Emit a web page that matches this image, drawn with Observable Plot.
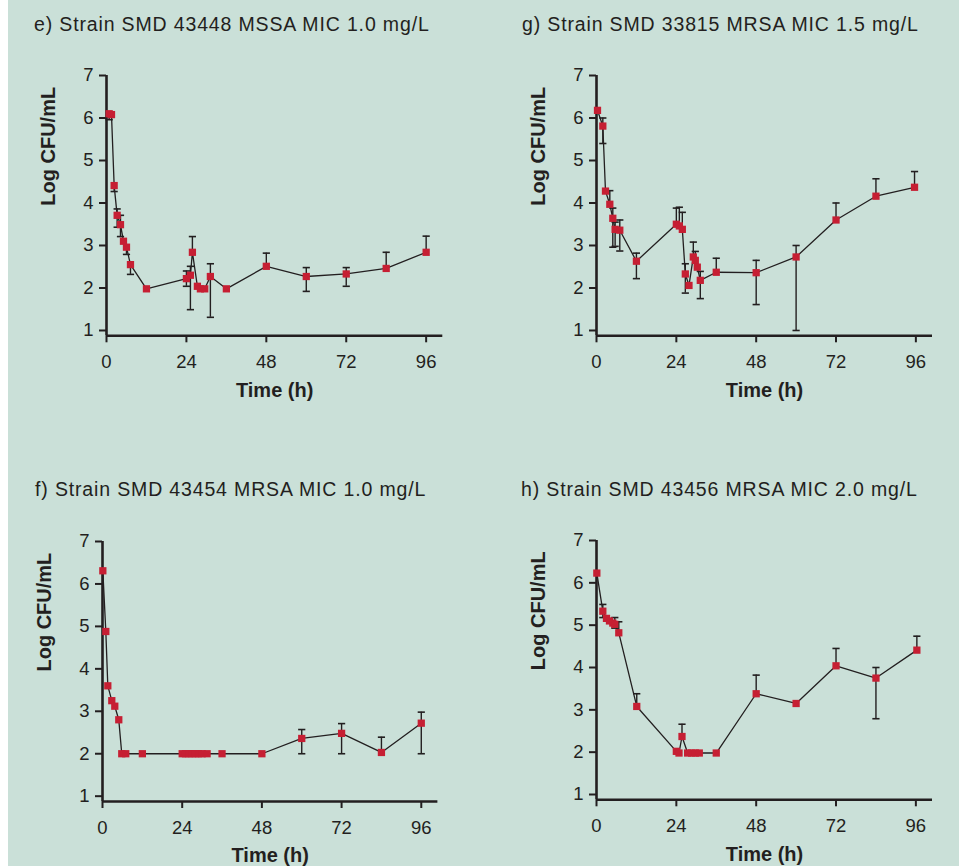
<!DOCTYPE html>
<html><head><meta charset="utf-8">
<script src="https://cdn.jsdelivr.net/npm/d3@7"></script>
<script src="https://cdn.jsdelivr.net/npm/@observablehq/plot@0.6"></script>
<style>
html,body{margin:0;padding:0;background:#fff;}
#page{position:relative;width:959px;height:866px;overflow:hidden;background:#fff;}
#bg{position:absolute;left:8px;top:0;right:0;bottom:0;background:#cae0d8;}
.title{position:absolute;font-family:"Liberation Sans",Arial,sans-serif;font-size:19.5px;letter-spacing:0.85px;color:#231f20;white-space:nowrap;line-height:19.5px;}
.panel{position:absolute;}
</style></head><body><div id="page"><div id="bg"></div></div>
<script>
// ---- data (Log CFU/mL vs time in hours) ----
const xTicks = [0, 24, 48, 72, 96];
const yTicks = [1, 2, 3, 4, 5, 6, 7];

const eTitle = "e) Strain SMD 43448 MSSA MIC 1.0 mg/L";
const eTime = [0.8, 1.5, 2.3, 3.2, 4.2, 5.1, 6, 7.2, 12, 24, 25.2, 25.8, 27.3, 28.2, 29.5, 31.2, 36, 48, 60, 72, 84, 96];
const eLog  = [6.10, 6.08, 4.41, 3.71, 3.49, 3.10, 2.96, 2.55, 1.98, 2.22, 2.30, 2.84, 2.04, 1.98, 1.98, 2.27, 1.98, 2.51, 2.27, 2.33, 2.46, 2.84];
const eHi   = [null, null, null, 3.86, 3.71, null, null, null, null, 2.40, 2.51, 3.21, null, null, null, 2.57, null, 2.82, 2.48, 2.48, 2.84, 3.22];
const eLo   = [5.96, null, 4.27, 3.43, 3.21, null, 2.79, 2.32, null, 2.04, 1.49, null, null, null, null, 1.31, null, null, 1.92, 2.04, null, null];

const gTitle = "g) Strain SMD 33815 MRSA MIC 1.5 mg/L";
const gTime = [0.3, 1.9, 2.7, 4.0, 4.9, 5.6, 7.0, 12, 24, 24.9, 25.8, 26.7, 27.8, 29.1, 29.7, 30.3, 31.2, 36, 48, 60, 72, 84, 95.6];
const gLog  = [6.18, 5.81, 4.28, 3.97, 3.64, 3.38, 3.36, 2.63, 3.50, 3.46, 3.38, 2.33, 2.06, 2.73, 2.65, 2.49, 2.18, 2.37, 2.36, 2.73, 3.60, 4.16, 4.37];
const gHi   = [null, 6.0, null, 4.29, 3.88, 3.55, 3.60, 2.82, 3.88, 3.90, 3.78, 2.57, null, 3.08, 2.86, null, 2.39, 2.70, 2.65, 3.0, 4.0, 4.57, 4.74];
const gLo   = [null, 5.40, null, null, 2.96, 2.98, 2.87, 2.22, null, null, null, 1.88, null, null, null, null, 1.75, null, 1.61, 1.0, null, null, null];

const fTitle = "f) Strain SMD 43454 MRSA MIC 1.0 mg/L";
const fTime = [0.1, 1.0, 1.6, 2.8, 3.7, 4.9, 5.8, 7.0, 12, 24, 25, 26, 27, 28, 29, 30, 31.5, 36, 48, 60, 72, 84, 96];
const fLog  = [6.31, 4.88, 3.60, 3.25, 3.12, 2.80, 2.0, 2.0, 2.0, 2.0, 2.0, 2.0, 2.0, 2.0, 2.0, 2.0, 2.0, 2.0, 2.0, 2.36, 2.48, 2.03, 2.72];
const fHi   = [null, null, null, null, null, null, null, null, null, null, null, null, null, null, null, null, null, null, null, 2.57, 2.71, 2.39, 2.98];
const fLo   = [null, null, null, null, null, null, null, null, null, null, null, null, null, null, null, null, null, null, null, 2.0, 2.0, null, 2.0];

const hTitle = "h) Strain SMD 43456 MRSA MIC 2.0 mg/L";
const hTime = [0.1, 1.9, 3, 3.9, 4.9, 5.5, 6.7, 12.1, 24, 24.8, 25.7, 27.4, 28.6, 29.7, 30.9, 36, 48, 60, 72, 84, 96.3];
const hLog  = [6.23, 5.33, 5.16, 5.10, 5.05, 5.02, 4.82, 3.08, 2.02, 1.98, 2.37, 1.98, 1.98, 1.98, 1.98, 1.98, 3.38, 3.15, 4.04, 3.75, 4.41];
const hHi   = [null, 5.49, null, null, null, 5.18, 5.08, 3.38, null, null, 2.66, null, null, null, null, null, 3.82, null, 4.45, 4.0, 4.74];
const hLo   = [null, 5.18, null, null, null, 4.93, null, null, null, null, null, null, null, null, null, null, null, null, null, 2.79, null];

// ---- layout (frame edges in page pixels) ----
const X_DOMAIN = [0, 101];
const Y_DOMAIN = [0.875, 7];
const panels = [
  {title: eTitle, t: eTime, v: eLog, hi: eHi, lo: eLo, L: 105.7, T: 75,    R: 442,   B: 335.3, tx: 34,  ty: 31.7},
  {title: gTitle, t: gTime, v: gLog, hi: gHi, lo: gLo, L: 595.7, T: 75,    R: 931.7, B: 335.3, tx: 522, ty: 31.7},
  {title: fTitle, t: fTime, v: fLog, hi: fHi, lo: fLo, L: 102.3, T: 540.7, R: 437.7, B: 800.7, tx: 35,  ty: 496.7},
  {title: hTitle, t: hTime, v: hLog, hi: hHi, lo: hLo, L: 595.7, T: 540,   R: 931.7, B: 799.3, tx: 521, ty: 496.7}
];

const RED = "#c61f33", INK = "#231f20";
const FONT = "'Liberation Sans', Arial, Helvetica, sans-serif";
const cap = {draw(ctx) { ctx.moveTo(-3.6, 0); ctx.lineTo(3.6, 0); }};
const ML = 110, MR = 20, MT = 20, MB = 75;
const page = document.getElementById("page");

for (const p of panels) {
  const rows = p.t.map((t, i) => ({t, v: p.v[i], hi: p.hi[i], lo: p.lo[i]}));
  const bars = rows.filter(d => d.hi != null || d.lo != null)
    .map(d => ({t: d.t, y1: d.lo ?? d.v, y2: d.hi ?? d.v}));
  const caps = [];
  for (const d of rows) {
    if (d.hi != null) caps.push({t: d.t, y: d.hi});
    if (d.lo != null) caps.push({t: d.t, y: d.lo});
  }
  const width = p.R - p.L + ML + MR;
  const height = p.B - p.T + MT + MB;
  const chart = Plot.plot({
    width, height,
    marginLeft: ML, marginRight: MR, marginTop: MT, marginBottom: MB,
    style: {background: "transparent", overflow: "visible", fontFamily: FONT, color: INK, maxWidth: "none"},
    x: {domain: X_DOMAIN},
    y: {domain: Y_DOMAIN},
    marks: [
      Plot.axisY({ticks: yTicks, tickFormat: d => String(d), tickSize: 7, tickPadding: 6, fontSize: 18.5, strokeWidth: 2, stroke: INK, label: null}),
      Plot.axisX({ticks: xTicks, tickFormat: d => String(d), tickSize: 7, tickPadding: 12, fontSize: 18.5, strokeWidth: 2, stroke: INK, label: null}),
      Plot.ruleX([X_DOMAIN[0]], {stroke: INK, strokeWidth: 2.6}),
      Plot.ruleY([Y_DOMAIN[0]], {stroke: INK, strokeWidth: 2.6}),
      Plot.text(["Log CFU/mL"], {frameAnchor: "left", rotate: -90, dx: -58, fontSize: 20, fontWeight: "bold", fill: INK}),
      Plot.text(["Time (h)"], {frameAnchor: "bottom", dy: 61, fontSize: 20, fontWeight: "bold", fill: INK}),
      Plot.line(rows, {x: "t", y: "v", stroke: INK, strokeWidth: 1.3}),
      Plot.ruleX(bars, {x: "t", y1: "y1", y2: "y2", stroke: INK, strokeWidth: 1.4}),
      Plot.dot(caps, {x: "t", y: "y", symbol: cap, stroke: INK, strokeWidth: 1.6, fill: "none"}),
      Plot.dot(rows, {x: "t", y: "v", symbol: "square", r: 4.1, fill: RED, stroke: "none"})
    ]
  });
  const div = document.createElement("div");
  div.className = "panel";
  div.style.left = (p.L - ML) + "px";
  div.style.top = (p.T - MT) + "px";
  div.style.width = width + "px";
  div.style.height = height + "px";
  div.appendChild(chart);
  page.appendChild(div);

  const tt = document.createElement("div");
  tt.className = "title";
  tt.textContent = p.title;
  tt.style.left = p.tx + "px";
  tt.style.top = (p.ty - 16.5) + "px";
  page.appendChild(tt);
}
</script>
</body></html>
